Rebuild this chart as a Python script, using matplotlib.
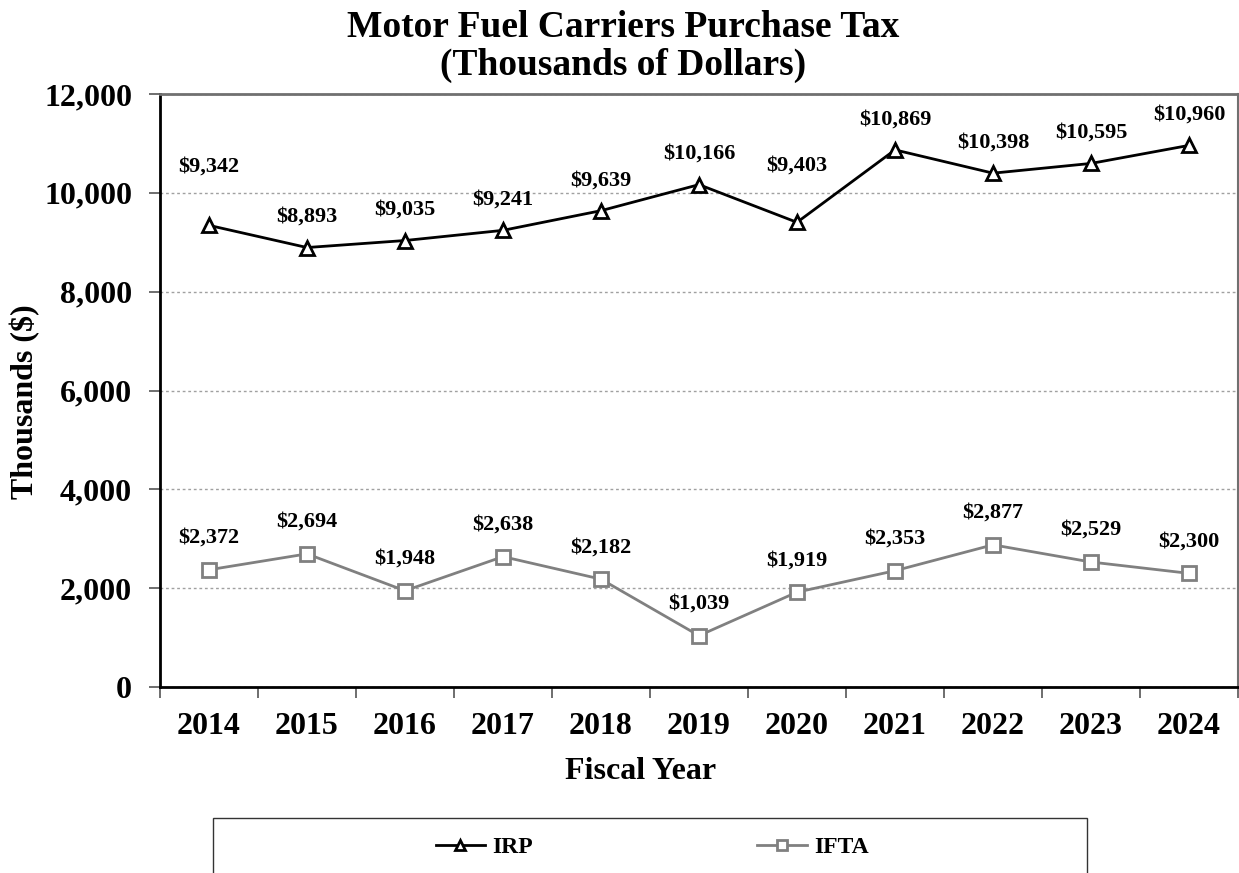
import matplotlib
matplotlib.use('Agg')
import matplotlib.pyplot as plt
from matplotlib.patches import Rectangle
from matplotlib.ticker import FuncFormatter, FixedLocator
import numpy as np

# data
years = ['2014', '2015', '2016', '2017', '2018', '2019',
         '2020', '2021', '2022', '2023', '2024']
irp = [9342, 8893, 9035, 9241, 9639, 10166, 9403, 10869, 10398, 10595, 10960]
ifta = [2372, 2694, 1948, 2638, 2182, 1039, 1919, 2353, 2877, 2529, 2300]

# extra lift (points) for a few IRP labels that sit higher in the reference
irp_lift = {'2014': 20, '2020': 19}

plt.rcParams['font.family'] = ['Liberation Serif', 'DejaVu Serif']
plt.rcParams['font.weight'] = 'bold'

W, H = 1239, 873
fig = plt.figure(figsize=(W / 100, H / 100), dpi=100)
ax = fig.add_axes([160 / W, 1 - 687 / H, 1078 / W, 593 / H])

x = np.arange(len(years))
ax.plot(x, irp, color='black', lw=2, marker='^', ms=10, mfc='white',
        mec='black', mew=2, label='IRP', zorder=3)
ax.plot(x, ifta, color='#808080', lw=2, marker='s', ms=10, mfc='white',
        mec='#808080', mew=2, label='IFTA', zorder=3)

for i, y in enumerate(years):
    ax.annotate(f'${irp[i]:,}', (x[i], irp[i]), xytext=(0, 22 + irp_lift.get(y, 0)),
                textcoords='offset points', ha='center', va='center',
                fontsize=16, fontweight='bold')
    ax.annotate(f'${ifta[i]:,}', (x[i], ifta[i]), xytext=(0, 23),
                textcoords='offset points', ha='center', va='center',
                fontsize=16, fontweight='bold')

ax.set_xlim(-0.5, len(years) - 0.5)
ax.set_ylim(0, 12000)
ax.set_yticks(np.arange(0, 12001, 2000))
ax.yaxis.set_major_formatter(FuncFormatter(lambda v, p: f'{int(v):,}'))
ax.xaxis.set_major_locator(FixedLocator(np.arange(-0.5, len(years), 1.0)))
ax.xaxis.set_minor_locator(FixedLocator(x))
ax.set_xticklabels([])
ax.set_xticklabels(years, minor=True)
ax.tick_params(axis='x', which='major', direction='out', length=8, width=1.2,
               color='#555555')
ax.tick_params(axis='x', which='minor', length=0, pad=18, labelsize=23)
ax.tick_params(axis='y', direction='out', length=8, width=1.2, color='#555555',
               labelsize=23, pad=12)

for t in ax.get_xticklabels(minor=True) + ax.get_yticklabels():
    t.set_fontweight('bold')

ax.grid(axis='y', color='#a0a0a0', linestyle=(0, (2, 2)), lw=1)
ax.set_axisbelow(True)
ax.spines['left'].set_color('black')
ax.spines['left'].set_linewidth(2)
ax.spines['bottom'].set_color('black')
ax.spines['bottom'].set_linewidth(2)
ax.spines['top'].set_color('#707070')
ax.spines['top'].set_linewidth(2)
ax.spines['right'].set_color('#707070')
ax.spines['right'].set_linewidth(1.5)

# title and axis labels are centred on the figure in the reference, not the axes
fig.text(623 / W, 1 - 10 / H, 'Motor Fuel Carriers Purchase Tax\n(Thousands of Dollars)',
         ha='center', va='top', fontsize=27, fontweight='bold', linespacing=1.12)
fig.text(641 / W, 1 - 779 / H, 'Fiscal Year', ha='center', va='baseline',
         fontsize=23, fontweight='bold')
fig.text(25 / W, 1 - 402 / H, 'Thousands ($)', ha='center', va='center',
         rotation=90, fontsize=23, fontweight='bold')

# legend box, running off the bottom edge as in the reference
fig.patches.append(Rectangle((213 / W, -0.05), (1087 - 213) / W, 0.113,
                             transform=fig.transFigure, fill=False,
                             edgecolor='#333333', lw=1))
fig.legend(loc='center', bbox_to_anchor=(652 / W, 1 - 847 / H), ncol=2,
           frameon=False, handlelength=2.1, handletextpad=0.3,
           columnspacing=9.5, markerscale=0.65, prop={'weight': 'bold', 'size': 17})

fig.savefig('out.png', dpi=100)
